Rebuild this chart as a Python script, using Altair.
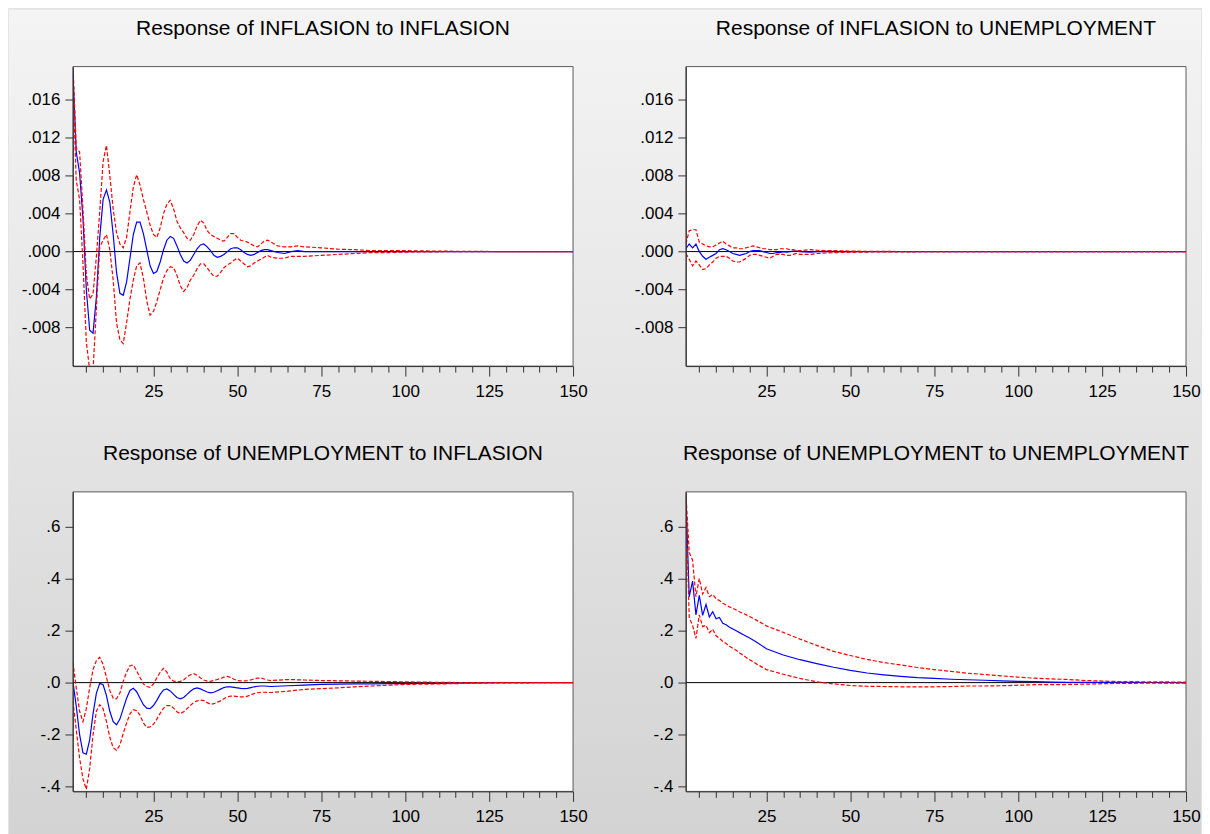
import altair as alt
import pandas as pd

# ---------------- data ----------------
# Panel 1: Response of INFLASION to INFLASION
P1_T = list(range(1, 61)) + [62, 64, 66, 68, 70, 75, 80, 85, 90, 95, 100, 110, 120, 130, 140, 150]
P1_RESP = [0.0190, 0.0105, 0.0083, 0.0035, -0.0040, -0.0083, -0.0086, -0.0048, 0.0015, 0.0055,
           0.0065, 0.0052, 0.0018, -0.0022, -0.0044, -0.0046, -0.0032, -0.0007, 0.0018, 0.0031,
           0.0031, 0.0019, 0.0002, -0.0015, -0.0023, -0.0021, -0.0011, 0.0002, 0.0012, 0.0016,
           0.0014, 0.0006, -0.0003, -0.0010, -0.0012, -0.0009, -0.0003, 0.0003, 0.0007, 0.0008,
           0.0005, 0.0001, -0.0004, -0.0006, -0.0005, -0.0003, 0.0000, 0.0003, 0.0004, 0.0004,
           0.0002, -0.0001, -0.0003, -0.0004, -0.0003, -0.0001, 0.0001, 0.0002, 0.0002, 0.0001,
           -0.0001, -0.0002, 0.0000, 0.0001, 0.0000, 0.0, 0.0, 0.0, 0.0, 0.0, 0.0, 0.0, 0.0, 0.0, 0.0, 0.0]
P1_UP = [0.0200, 0.0109, 0.0105, 0.0045, -0.0024, -0.0050, -0.0045, -0.0005, 0.0042, 0.0095,
         0.0112, 0.0080, 0.0045, 0.0020, 0.0008, 0.0004, 0.0015, 0.0042, 0.0068, 0.0081,
         0.0070, 0.0055, 0.0042, 0.0028, 0.0018, 0.0015, 0.0025, 0.0040, 0.0050, 0.0054,
         0.0045, 0.0032, 0.0025, 0.0020, 0.0014, 0.0012, 0.0018, 0.0027, 0.0033, 0.0030,
         0.0022, 0.0018, 0.0016, 0.0014, 0.0012, 0.0011, 0.0015, 0.0019, 0.0019, 0.0015,
         0.0012, 0.0011, 0.0010, 0.0008, 0.0006, 0.0005, 0.0008, 0.0011, 0.0012, 0.0010,
         0.0006, 0.0005, 0.0005, 0.0006, 0.0005, 0.0004, 0.00025, 0.0002, 0.0001, 0.0001,
         0.0001, 0.00005, 0.00002, 0.0, 0.0, 0.0]
P1_LO = [0.0180, 0.0075, 0.0055, -0.0012, -0.0095, -0.0125, -0.0125, -0.0060, 0.0005, 0.0012,
         0.0018, 0.0002, -0.0030, -0.0075, -0.0093, -0.0097, -0.0075, -0.0050, -0.0030, -0.0015,
         -0.0012, -0.0028, -0.0052, -0.0067, -0.0063, -0.0053, -0.0040, -0.0028, -0.0020, -0.0016,
         -0.0017, -0.0025, -0.0036, -0.0042, -0.0038, -0.0030, -0.0025, -0.0018, -0.0013, -0.0013,
         -0.0017, -0.0022, -0.0026, -0.0026, -0.0022, -0.0017, -0.0014, -0.0012, -0.0009, -0.0007,
         -0.0010, -0.0013, -0.0016, -0.0015, -0.0012, -0.0010, -0.0008, -0.0006, -0.0004, -0.0006,
         -0.0007, -0.0007, -0.0005, -0.0005, -0.0005, -0.0004, -0.0003, -0.0002, -0.0001, -0.0001,
         -0.00005, -0.00002, 0.0, 0.0, 0.0, 0.0]

# Panel 2: Response of INFLASION to UNEMPLOYMENT
P2_T = list(range(1, 36)) + [38, 40, 43, 46, 50, 55, 60, 70, 80, 100, 150]
P2_RESP = [0.0003, 0.0008, 0.0004, 0.0008, 0.0000, -0.0005, -0.0008, -0.0006, -0.0004, -0.0002,
           0.0002, 0.0003, 0.0002, 0.0000, -0.0002, -0.0003, -0.0004, -0.0003, -0.0002, 0.0000,
           0.0001, 0.0001, 0.0001, 0.0000, -0.0001, -0.0002, -0.0002, -0.0001, -0.0001, 0.0000,
           -0.00005, 0.0, 0.00005, 0.00005, 0.0,
           -0.00005, 0.0, 0.00003, 0.0, 0.0, 0.0, 0.0, 0.0, 0.0, 0.0, 0.0]
P2_UP = [0.0008, 0.0022, 0.0023, 0.0023, 0.0010, 0.0008, 0.0006, 0.0005, 0.0005, 0.0007,
         0.0009, 0.0011, 0.0008, 0.0006, 0.0004, 0.0004, 0.0003, 0.0003, 0.0004, 0.0005,
         0.0006, 0.0005, 0.0004, 0.0003, 0.0003, 0.0002, 0.0002, 0.0002, 0.0003, 0.0003,
         0.0003, 0.0002, 0.0002, 0.0001, 0.0001,
         0.0002, 0.00015, 0.0001, 0.0001, 0.00005, 0.00003, 0.00002, 0.0, 0.0, 0.0, 0.0]
P2_LO = [-0.0002, -0.0008, -0.0015, -0.0010, -0.0014, -0.0019, -0.0018, -0.0014, -0.0011, -0.0007,
         -0.0005, -0.0005, -0.0005, -0.0007, -0.0010, -0.0011, -0.0011, -0.0009, -0.0007, -0.0004,
         -0.0003, -0.0003, -0.0004, -0.0005, -0.0006, -0.0007, -0.0005, -0.0003, -0.0003, -0.0003,
         -0.0004, -0.0004, -0.0003, -0.0002, -0.0003,
         -0.0003, -0.0002, -0.00015, -0.0001, -0.00008, -0.00005, -0.00003, -0.00002, -0.00001, 0.0, 0.0]

# Panel 3: Response of UNEMPLOYMENT to INFLASION
P3_T = list(range(1, 61)) + [65, 70, 75, 80, 85, 90, 95, 100, 105, 110, 115, 120, 130, 140, 150]
P3_RESP = [0.005, -0.090, -0.200, -0.270, -0.275, -0.220, -0.120, -0.040, -0.003, -0.008,
           -0.050, -0.110, -0.150, -0.162, -0.140, -0.100, -0.060, -0.030, -0.022, -0.035,
           -0.060, -0.085, -0.098, -0.100, -0.088, -0.068, -0.045, -0.028, -0.024, -0.032,
           -0.045, -0.057, -0.062, -0.057, -0.045, -0.033, -0.024, -0.020, -0.024, -0.030,
           -0.036, -0.039, -0.037, -0.031, -0.025, -0.019, -0.016, -0.016, -0.018, -0.020,
           -0.022, -0.023, -0.022, -0.019, -0.016, -0.014, -0.013, -0.013, -0.014, -0.015,
           -0.012, -0.010, -0.007, -0.006, -0.005, -0.005, -0.004, -0.004, -0.003, -0.003,
           -0.002, -0.001, -0.0005, 0.0, 0.0]
P3_UP = [0.080, -0.020, -0.110, -0.150, -0.100, -0.020, 0.050, 0.085, 0.097, 0.070,
         0.020, -0.030, -0.060, -0.062, -0.040, 0.005, 0.040, 0.065, 0.068, 0.045,
         0.020, -0.005, -0.015, -0.018, -0.005, 0.018, 0.040, 0.055, 0.040, 0.015,
         0.006, 0.004, 0.005, 0.010, 0.022, 0.030, 0.034, 0.028, 0.018, 0.010,
         0.006, 0.005, 0.008, 0.012, 0.016, 0.021, 0.024, 0.020, 0.013, 0.008,
         0.007, 0.007, 0.008, 0.010, 0.014, 0.017, 0.018, 0.014, 0.010, 0.008,
         0.012, 0.010, 0.008, 0.007, 0.006, 0.005, 0.004, 0.003, 0.002, 0.001,
         0.0005, 0.0003, 0.0002, 0.0001, 0.0]
P3_LO = [-0.070, -0.180, -0.290, -0.370, -0.410, -0.330, -0.200, -0.110, -0.085, -0.100,
         -0.150, -0.210, -0.250, -0.260, -0.240, -0.195, -0.155, -0.120, -0.104, -0.108,
         -0.125, -0.155, -0.172, -0.170, -0.160, -0.140, -0.118, -0.098, -0.088, -0.088,
         -0.098, -0.112, -0.119, -0.112, -0.100, -0.088, -0.076, -0.070, -0.067, -0.069,
         -0.077, -0.083, -0.081, -0.075, -0.070, -0.062, -0.055, -0.052, -0.052, -0.054,
         -0.055, -0.055, -0.052, -0.047, -0.042, -0.039, -0.037, -0.037, -0.038, -0.038,
         -0.033, -0.026, -0.023, -0.020, -0.016, -0.013, -0.010, -0.007, -0.006, -0.005,
         -0.004, -0.002, -0.001, -0.0005, 0.0]

# Panel 4: Response of UNEMPLOYMENT to UNEMPLOYMENT
P4_T = list(range(1, 21)) + [22, 25, 30, 35, 40, 45, 50, 55, 60, 65, 70, 75, 80, 85, 90, 95, 100,
                             105, 110, 115, 120, 125, 130, 140, 150]
P4_RESP = [0.720, 0.330, 0.390, 0.260, 0.335, 0.258, 0.300, 0.252, 0.272, 0.245,
           0.250, 0.228, 0.222, 0.213, 0.206, 0.199, 0.192, 0.185, 0.178, 0.171,
           0.156, 0.130, 0.106, 0.088, 0.073, 0.059, 0.047, 0.037, 0.030, 0.024, 0.019, 0.016, 0.013,
           0.011, 0.009, 0.007, 0.005, 0.004, 0.002, 0.0013, 0.001, 0.0008, 0.0006, 0.0004, 0.0002]
P4_UP = [0.730, 0.500, 0.470, 0.330, 0.400, 0.340, 0.365, 0.330, 0.338, 0.322,
         0.315, 0.305, 0.298, 0.291, 0.285, 0.279, 0.272, 0.266, 0.260, 0.254,
         0.240, 0.218, 0.193, 0.167, 0.143, 0.120, 0.104, 0.089, 0.077, 0.068, 0.058, 0.050, 0.043,
         0.036, 0.031, 0.026, 0.021, 0.017, 0.014, 0.012, 0.008, 0.006, 0.004, 0.003, 0.002]
P4_LO = [0.700, 0.250, 0.220, 0.170, 0.260, 0.215, 0.220, 0.192, 0.205, 0.180,
         0.170, 0.158, 0.150, 0.140, 0.132, 0.124, 0.114, 0.106, 0.096, 0.088,
         0.072, 0.050, 0.032, 0.016, 0.003, -0.005, -0.011, -0.014, -0.015, -0.016, -0.016, -0.016,
         -0.015, -0.013, -0.013, -0.012, -0.010, -0.008, -0.008, -0.007, -0.006, -0.004, -0.003,
         -0.002, -0.002]

TITLES = ["Response of INFLASION to INFLASION", "Response of INFLASION to UNEMPLOYMENT",
          "Response of UNEMPLOYMENT to INFLASION", "Response of UNEMPLOYMENT to UNEMPLOYMENT"]
TOP_TICKS = [-0.008, -0.004, 0.0, 0.004, 0.008, 0.012, 0.016]
BOT_TICKS = [-0.4, -0.2, 0.0, 0.2, 0.4, 0.6]
X_TICKS = list(range(5, 151, 5))

# ---------------- styling / layout ----------------
FONT = "Liberation Sans"
W = 501
H = 300
ONE = pd.DataFrame({"k": [0]})


def grad(c0, c1):
    return {"gradient": "linear", "x1": 0, "y1": 0, "x2": 0, "y2": 1,
            "stops": [{"offset": 0, "color": c0}, {"offset": 1, "color": c1}]}


def make_panel(title, T, resp, up, lo, ydom, yticks, ydec, box, colors):
    n = len(T)
    df = pd.DataFrame({"t": list(T) * 3, "v": list(resp) + list(up) + list(lo),
                       "s": ["resp"] * n + ["up"] * n + ["lo"] * n})
    xenc = alt.X("t:Q", scale=alt.Scale(domain=[1, 150], nice=False, zero=False),
                 axis=alt.Axis(values=X_TICKS,
                               labelExpr="datum.value % 25 === 0 ? format(datum.value, 'd') : ''",
                               tickSize={"condition": {"test": "datum.value % 25 === 0", "value": 10},
                                         "value": 6},
                               labelPadding=7, labelFlush=False, labelOverlap=False,
                               grid=False, title=None, zindex=1))
    yexpr = ("replace(replace(format(datum.value, '.%df'), '0.', '.'), '\u2212', '-')" % ydec)
    yenc = alt.Y("v:Q", scale=alt.Scale(domain=ydom, nice=False, zero=False),
                 axis=alt.Axis(values=yticks, labelExpr=yexpr, tickSize=8, labelPadding=5,
                               labelFlush=False, labelOverlap=False, grid=False, title=None,
                               zindex=1))
    bg = alt.Chart(ONE).mark_rect(fill=grad(*colors), strokeWidth=0).encode(
        x=alt.value(box[0]), x2=alt.value(box[1]), y=alt.value(box[2]), y2=alt.value(box[3]))
    white = alt.Chart(ONE).mark_rect(fill="white", stroke="#5a5a5a", strokeWidth=1).encode(
        x=alt.value(0), x2=alt.value(W), y=alt.value(0), y2=alt.value(H))
    ttl = alt.Chart(ONE).mark_text(text=title, font=FONT, fontSize=21, color="black",
                                   align="center", baseline="alphabetic").encode(
        x=alt.value(W / 2), y=alt.value(-32))
    zero = alt.Chart(pd.DataFrame({"v": [0.0]})).mark_rule(color="black", strokeWidth=1).encode(y=yenc)
    blue = alt.Chart(df).transform_filter("datum.s === 'resp'").mark_line(
        color="#0000ff", strokeWidth=1.2, clip=True).encode(x=xenc, y=yenc)
    red = alt.Chart(df).transform_filter("datum.s !== 'resp'").mark_line(
        color="#ff0000", strokeWidth=1.2, strokeDash=[4, 2], clip=True).encode(
        x=xenc, y=yenc, detail="s:N")
    return alt.layer(bg, white, ttl, zero, blue, red).properties(width=W, height=H)


TOP_DOM = [-0.01207, 0.0195]
BOT_DOM = [-0.4177, 0.7325]
C_TOP = ("#f4f4f4", "#e4e4e4")
C_BOT = ("#e4e4e4", "#d3d3d3")

p1 = make_panel(TITLES[0], P1_T, P1_RESP, P1_UP, P1_LO, TOP_DOM, TOP_TICKS, 3,
                (-64, 533, -57, 355), C_TOP)
p2 = make_panel(TITLES[1], P2_T, P2_RESP, P2_UP, P2_LO, TOP_DOM, TOP_TICKS, 3,
                (-81, 516, -57, 355), C_TOP)
p3 = make_panel(TITLES[2], P3_T, P3_RESP, P3_UP, P3_LO, BOT_DOM, BOT_TICKS, 1,
                (-64, 533, -71, 343), C_BOT)
p4 = make_panel(TITLES[3], P4_T, P4_RESP, P4_UP, P4_LO, BOT_DOM, BOT_TICKS, 1,
                (-81, 516, -71, 343), C_BOT)

chart = alt.concat(p1, p2, p3, p4, columns=2, spacing={"row": 126, "column": 113},
                   bounds="flush").properties(
    padding=0
).configure(background="#e4e4e4").configure_view(stroke="transparent").configure_axis(
    labelFont=FONT, labelFontSize=17, labelColor="black", tickColor="#333333",
    domainColor="#333333", tickWidth=1, domainWidth=1
)

chart.save("out.html", embed_options={"renderer": "svg", "actions": False})
